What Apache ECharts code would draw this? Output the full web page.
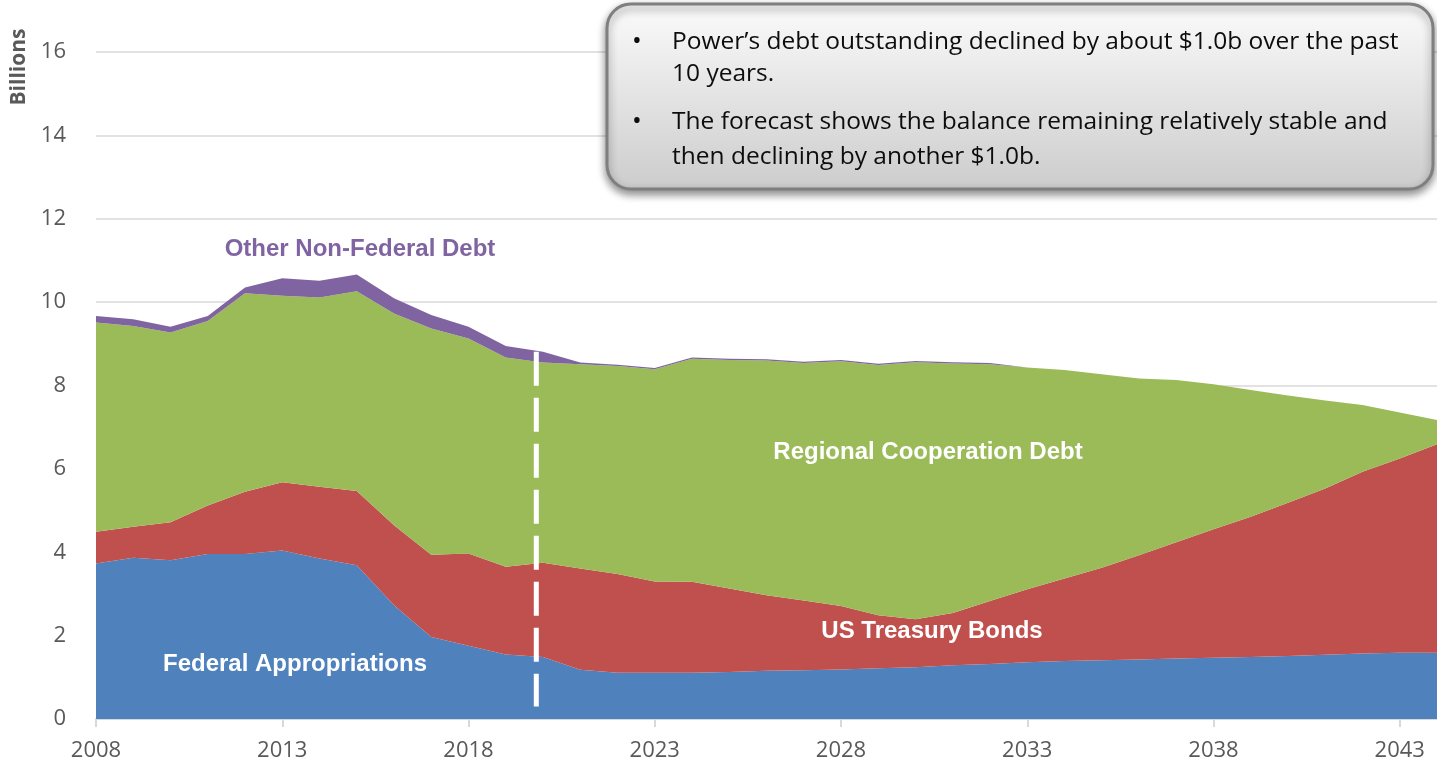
<!DOCTYPE html>
<html>
<head>
<meta charset="utf-8">
<title>Power debt outstanding</title>
<script src="https://cdn.jsdelivr.net/npm/echarts@6/dist/echarts.min.js"></script>
<style>
    html, body { margin: 0; padding: 0; background: #fff; }
    #chart { width: 1437px; height: 769px; }
</style>
</head>
<body>
<div id="chart"></div>
<script>
// fiscal years on the x axis
const years = [
    '2008', '2009', '2010', '2011', '2012', '2013', '2014', '2015', '2016', '2017',
    '2018', '2019', '2020', '2021', '2022', '2023', '2024', '2025', '2026', '2027',
    '2028', '2029', '2030', '2031', '2032', '2033', '2034', '2035', '2036', '2037',
    '2038', '2039', '2040', '2041', '2042', '2043', '2044'
]

// billions (stacked from the bottom up)
const federal = [
    3.73, 3.87, 3.81, 3.96, 3.96, 4.04, 3.85, 3.69, 2.73, 1.97,
    1.76, 1.55, 1.49, 1.18, 1.11, 1.11, 1.11, 1.13, 1.16, 1.17,
    1.19, 1.22, 1.24, 1.29, 1.32, 1.36, 1.39, 1.41, 1.43, 1.45,
    1.47, 1.49, 1.51, 1.54, 1.57, 1.59, 1.59
]
const treasury = [
    0.76, 0.74, 0.91, 1.16, 1.49, 1.64, 1.72, 1.78, 1.92, 1.97,
    2.21, 2.10, 2.26, 2.43, 2.37, 2.19, 2.18, 2.00, 1.81, 1.67,
    1.52, 1.27, 1.15, 1.25, 1.51, 1.75, 1.98, 2.22, 2.50, 2.79,
    3.08, 3.36, 3.68, 3.99, 4.36, 4.66, 5.00
]
const regional = [
    5.02, 4.82, 4.55, 4.43, 4.76, 4.47, 4.54, 4.79, 5.08, 5.43,
    5.16, 5.02, 4.80, 4.90, 4.99, 5.09, 5.35, 5.48, 5.63, 5.70,
    5.87, 6.00, 6.17, 5.99, 5.68, 5.32, 5.00, 4.64, 4.24, 3.89,
    3.48, 3.04, 2.57, 2.11, 1.60, 1.10, 0.58
]
const otherDebt = [
    0.16, 0.16, 0.14, 0.12, 0.14, 0.42, 0.40, 0.40, 0.36, 0.32,
    0.28, 0.28, 0.26, 0.04, 0.03, 0.03, 0.03, 0.03, 0.03, 0.03,
    0.03, 0.03, 0.03, 0.03, 0.03, 0, 0, 0, 0, 0,
    0, 0, 0, 0, 0, 0, 0
]

// y axis ticks (billions)
const yMin = 0
const yMax = 16
const yStep = 2

// dashed "2020" marker: x position (year) and its span in billions
const markerYear = 2019.82
const markerSpan = [8.81, 0.3]
const markerText = '2020'

const noteLines = [
    'Power\u2019s debt outstanding declined by about $1.0b over the past',
    '10 years.',
    'The forecast shows the balance remaining relatively stable and',
    'then declining by another $1.0b.'
];

(function () {
    const myChart = echarts.init(document.getElementById('chart'))

    const areaSeries = function (name, data, color) {
        return {
            name: name,
            type: 'line',
            stack: 'debt',
            data: data,
            symbol: 'none',
            smooth: false,
            lineStyle: { width: 0 },
            areaStyle: { color: color, opacity: 1 },
            itemStyle: { color: color },
            emphasis: { disabled: true },
            z: 2
        }
    }

    const labelFont = '"Liberation Sans", Arial, sans-serif'
    const noteFont = '"Open Sans", sans-serif'

    const seriesLabel = function (text, x, y, color) {
        return {
            type: 'text',
            x: x,
            y: y,
            z: 10,
            style: {
                text: text,
                fill: color,
                fontSize: 24,
                fontWeight: 'bold',
                fontFamily: labelFont,
                align: 'center',
                verticalAlign: 'middle'
            }
        }
    }

    const noteText = function (text, x, y, size) {
        return {
            type: 'text',
            x: x,
            y: y,
            z: 21,
            style: {
                text: text,
                fill: '#0d0d0d',
                fontSize: size || 24.5,
                fontFamily: noteFont,
                align: 'left',
                verticalAlign: 'middle'
            }
        }
    }

    const option = {
        animation: false,
        grid: {
            left: 96,
            right: 0,
            top: 52,
            bottom: 50,
            containLabel: false
        },
        xAxis: [
            {
                type: 'category',
                data: years,
                boundaryGap: false,
                axisLine: {
                    lineStyle: { color: '#d9d9d9', width: 2 }
                },
                axisTick: {
                    show: true,
                    interval: 4,
                    length: 8,
                    lineStyle: { color: '#d9d9d9', width: 2 }
                },
                axisLabel: {
                    interval: 4,
                    color: '#595959',
                    fontSize: 22,
                    fontFamily: '"Open Sans", sans-serif',
                    margin: 21
                },
                splitLine: { show: false }
            },
            {
                // hidden numeric axis used only to place the 2020 marker
                type: 'value',
                min: 2008,
                max: 2044,
                show: false
            }
        ],
        yAxis: {
            type: 'value',
            min: yMin,
            max: yMax,
            interval: yStep,
            axisLine: { show: false },
            axisTick: { show: false },
            axisLabel: {
                color: '#595959',
                fontSize: 22,
                fontFamily: '"Open Sans", sans-serif',
                margin: 30
            },
            splitLine: {
                lineStyle: { color: '#d9d9d9', width: 1.5 }
            }
        },
        series: [
            areaSeries('Federal Appropriations', federal, '#4f81bd'),
            areaSeries('US Treasury Bonds', treasury, '#c0504d'),
            areaSeries('Regional Cooperation Debt', regional, '#9bbb59'),
            areaSeries('Other Non-Federal Debt', otherDebt, '#8064a2'),
            {
                name: 'marker',
                type: 'line',
                xAxisIndex: 1,
                symbol: 'none',
                z: 5,
                lineStyle: { color: '#fff', width: 5, type: [34, 12] },
                data: [
                    {
                        value: [markerYear, markerSpan[0]],
                        label: {
                            show: true,
                            formatter: markerText,
                            position: 'top',
                            offset: [8, -4],
                            color: '#000',
                            fontSize: 24,
                            fontWeight: 'bold',
                            fontFamily: labelFont
                        }
                    },
                    [markerYear, markerSpan[1]]
                ],
                emphasis: { disabled: true }
            }
        ],
        graphic: [
            {
                type: 'text',
                x: 19,
                y: 67,
                rotation: Math.PI / 2,
                z: 10,
                style: {
                    text: 'Billions',
                    fill: '#595959',
                    fontSize: 21,
                    fontWeight: 'bold',
                    fontFamily: noteFont,
                    align: 'center',
                    verticalAlign: 'middle'
                }
            },
            seriesLabel('Other Non-Federal Debt', 360, 249, '#8064a2'),
            seriesLabel('Regional Cooperation Debt', 928, 452, '#fff'),
            seriesLabel('US Treasury Bonds', 932, 631, '#fff'),
            seriesLabel('Federal Appropriations', 295, 664, '#fff'),
            {
                type: 'rect',
                z: 20,
                shape: { x: 607, y: 4, width: 826, height: 185, r: 24 },
                style: {
                    fill: {
                        type: 'linear',
                        x: 0, y: 0, x2: 0, y2: 1,
                        colorStops: [
                            { offset: 0, color: '#fbfbfb' },
                            { offset: 1, color: '#cccccc' }
                        ]
                    },
                    stroke: '#7f7f7f',
                    lineWidth: 3,
                    shadowBlur: 8,
                    shadowOffsetY: 4,
                    shadowColor: 'rgba(0,0,0,0.45)'
                }
            },
            noteText('\u2022', 632, 42, 26),
            noteText(noteLines[0], 672, 42),
            noteText(noteLines[1], 672, 74),
            noteText('\u2022', 632, 122, 26),
            noteText(noteLines[2], 672, 122),
            noteText(noteLines[3], 672, 157)
        ]
    }

    myChart.setOption(option)

    window.addEventListener('resize', function () {
        myChart.resize()
    })
})();
</script>
</body>
</html>
